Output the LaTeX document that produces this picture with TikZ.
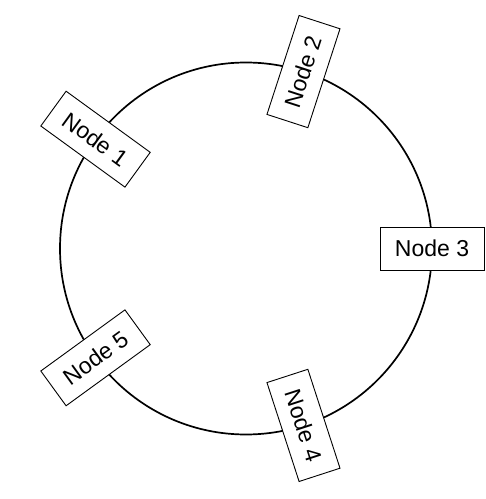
\documentclass[tikz,border=0pt]{standalone}
\usepackage{fontspec}
\setmainfont{Liberation Sans}
\usetikzlibrary{calc}
\begin{document}
\begin{tikzpicture}[x=1pt,y=1pt]
\tikzset{
  nodebox/.style={draw, fill=white, line width=0.9pt, minimum width=104pt, minimum height=43pt, inner sep=0pt, font=\fontsize{23}{27}\selectfont},
  ring/.style={line width=1.7pt}
}
\useasboundingbox (0,0) rectangle (486,499);
\coordinate (c) at (246,250.5);
\draw[ring] (c) circle (186);
\node[nodebox, rotate=-36] (n1) at ($(c)+(144:186)$) {Node 1};
\node[nodebox, rotate=72] (n2) at ($(c)+(72:186)$) {Node 2};
\node[nodebox, rotate=0] (n3) at ($(c)+(0:186)$) {Node 3};
\node[nodebox, rotate=-72] (n4) at ($(c)+(288:186)$) {Node 4};
\node[nodebox, rotate=36] (n5) at ($(c)+(216:186)$) {Node 5};
\end{tikzpicture}
\end{document}
